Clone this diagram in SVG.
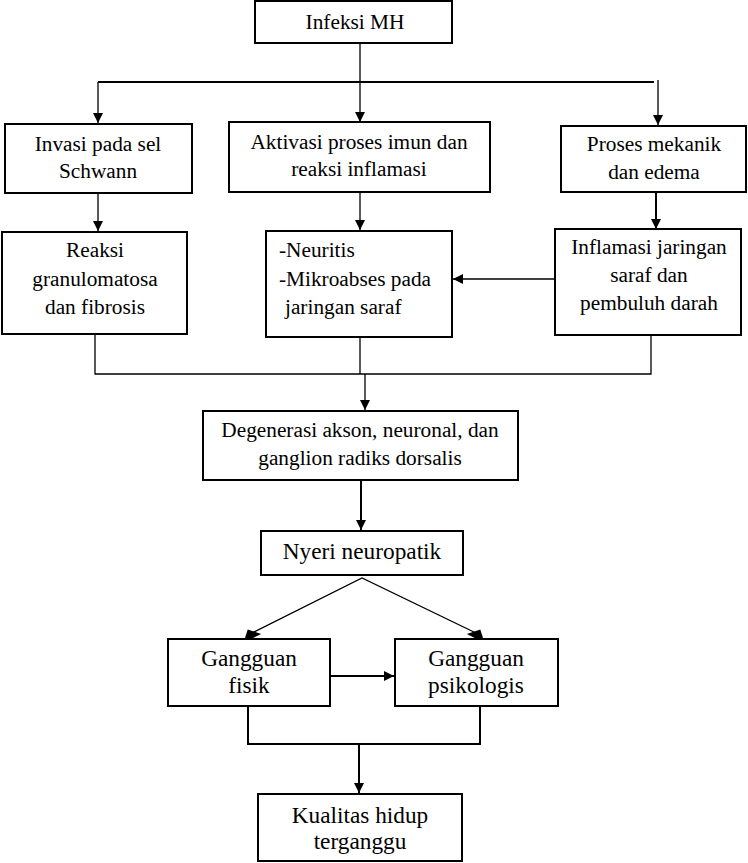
<svg xmlns="http://www.w3.org/2000/svg" width="748" height="863" viewBox="0 0 748 863">
<style>
.box{fill:#fff;stroke:#000;stroke-width:2}
.t{font-family:'Liberation Serif',serif;font-size:21.3px;fill:#000}
.b{font-size:23.3px}
.c{text-anchor:middle}
.ln{fill:none;stroke:#000;stroke-width:1.3}
.lk{fill:none;stroke:#000;stroke-width:2}
</style>
<defs>
<marker id="ah" viewBox="0 0 10 10" refX="10" refY="5" markerWidth="10" markerHeight="10" markerUnits="userSpaceOnUse" orient="auto">
<path d="M0,0 L10,5 L0,10 z" fill="#000"/>
</marker>
</defs>
<g id="connectors">
<path class="ln" d="M360,43 V82"/>
<path class="lk" d="M98,82 H654"/>
<path class="ln" d="M98,82 V123" marker-end="url(#ah)"/>
<path class="ln" d="M360,82 V122" marker-end="url(#ah)"/>
<path class="ln" d="M658,80 V125" marker-end="url(#ah)"/>
<path class="ln" d="M98,193 V231" marker-end="url(#ah)"/>
<path class="ln" d="M360,192 V230" marker-end="url(#ah)"/>
<path class="lk" d="M656,192 V229" marker-end="url(#ah)"/>
<path class="ln" d="M555,279 H453" marker-end="url(#ah)"/>
<path class="ln" d="M95,334 V374 H651 V335"/>
<path class="ln" d="M360,337 V374"/>
<path class="ln" d="M365,374 V410" marker-end="url(#ah)"/>
<path class="lk" d="M361,480 V530" marker-end="url(#ah)"/>
<path class="ln" d="M250,634 L362,578 L478,634"/>
<path d="M240,639 L260,639 L250,629 z" fill="#000" transform="rotate(-27 250 634)"/>
<path d="M468,639 L488,639 L478,629 z" fill="#000" transform="rotate(27 478 634)"/>
<path class="lk" d="M330,676 H394" marker-end="url(#ah)"/>
<path class="lk" d="M248,706 V744 H480 V706"/>
<path class="lk" d="M359,744 V793" marker-end="url(#ah)"/>
</g>
<g id="n1"><rect class="box" x="255" y="1" width="197" height="42"/><text class="t c" x="355" y="29">Infeksi MH</text></g>
<g id="n2"><rect class="box" x="5" y="124" width="187" height="69"/><text class="t c" x="98" y="151">Invasi pada sel</text><text class="t c" x="98" y="178">Schwann</text></g>
<g id="n3"><rect class="box" x="229" y="122" width="261" height="70"/><text class="t c" x="359" y="149">Aktivasi proses imun dan</text><text class="t c" x="359" y="176">reaksi inflamasi</text></g>
<g id="n4"><rect class="box" x="561" y="126" width="185" height="66"/><text class="t c" x="654" y="151">Proses mekanik</text><text class="t c" x="654" y="179">dan edema</text></g>
<g id="n5"><rect class="box" x="2" y="232" width="185" height="102"/><text class="t c" x="95" y="257">Reaksi</text><text class="t c" x="95" y="286">granulomatosa</text><text class="t c" x="95" y="314">dan fibrosis</text></g>
<g id="n6"><rect class="box" x="266" y="231" width="186" height="106"/><text class="t" x="279" y="257">-Neuritis</text><text class="t" x="279" y="286">-Mikroabses pada</text><text class="t" x="285" y="314">jaringan saraf</text></g>
<g id="n7"><rect class="box" x="555" y="229" width="186" height="106"/><text class="t c" x="649" y="254">Inflamasi jaringan</text><text class="t c" x="649" y="282">saraf dan</text><text class="t c" x="649" y="310">pembuluh darah</text></g>
<g id="n8"><rect class="box" x="203" y="411" width="315" height="69"/><text class="t c" x="360" y="437">Degenerasi akson, neuronal, dan</text><text class="t c" x="360" y="465">ganglion radiks dorsalis</text></g>
<g id="n9"><rect class="box" x="261" y="531" width="202" height="44"/><text class="t b c" x="362" y="559">Nyeri neuropatik</text></g>
<g id="n10"><rect class="box" x="168" y="639" width="162" height="67"/><text class="t b c" x="249" y="666">Gangguan</text><text class="t b c" x="249" y="693">fisik</text></g>
<g id="n11"><rect class="box" x="395" y="639" width="163" height="67"/><text class="t b c" x="476" y="666">Gangguan</text><text class="t b c" x="476" y="693">psikologis</text></g>
<g id="n12"><rect class="box" x="258" y="794" width="204" height="67"/><text class="t b c" x="360" y="823">Kualitas hidup</text><text class="t b c" x="360" y="849">terganggu</text></g>
</svg>
